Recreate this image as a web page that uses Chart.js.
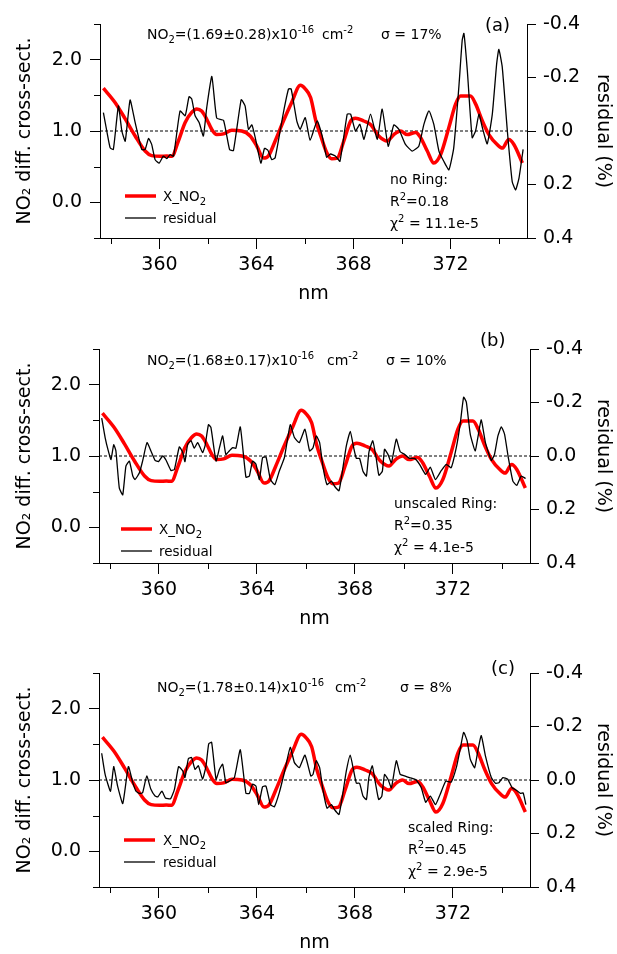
<!DOCTYPE html>
<html>
<head>
<meta charset="utf-8">
<script src="https://cdn.jsdelivr.net/npm/chart.js@4.4.1/dist/chart.umd.min.js"></script>
<style>
  html, body { margin: 0; padding: 0; background: #fff; }
  body { width: 617px; height: 954px; position: relative; overflow: hidden; }
  .panel { position: absolute; left: 0; width: 617px; height: 305px; }
</style>
</head>
<body>
<div class="panel" style="top:0px"><canvas id="panelA" width="617" height="305"></canvas></div>
<div class="panel" style="top:325px"><canvas id="panelB" width="617" height="305"></canvas></div>
<div class="panel" style="top:649px"><canvas id="panelC" width="617" height="305"></canvas></div>
<script>
// axis ranges and ticks
const X_MIN = 357.55, X_MAX = 375.15;
const xTicks = [360, 364, 368, 372];
const xMinor = [358, 362, 366, 370, 374];
const leftTicks = [0, 1, 2];
const leftMinor = [-0.5, 0.5, 1.5, 2.5];
const rightTicks = [-0.4, -0.2, 0, 0.2, 0.4];

// X_NO2 cross-section (same in every panel)
const redNm = [357.69, 358.17, 358.59, 359.00, 359.41, 359.68, 360.03, 360.30, 360.51, 360.78,
  361.06, 361.33, 361.54, 361.74, 361.95, 362.16, 362.36, 362.64, 362.98, 363.39,
  363.74, 364.01, 364.29, 364.49, 364.77, 365.11, 365.45, 365.81, 366.01, 366.23,
  366.45, 366.68, 366.88, 367.10, 367.33, 367.60, 367.88, 368.08, 368.42, 368.70, 369.04,
  369.39, 369.66, 369.94, 370.21, 370.56, 370.76, 371.04, 371.31, 371.59, 371.93,
  372.21, 372.41, 372.82, 373.03, 373.31, 373.58, 373.92, 374.13, 374.40, 374.61, 374.96];
const redVal = [1.60, 1.40, 1.17, 0.93, 0.72, 0.655, 0.645, 0.65, 0.645, 0.86,
  1.12, 1.26, 1.31, 1.28, 1.165, 1.02, 0.95, 0.96, 1.01, 1.00,
  0.93, 0.79, 0.62, 0.65, 0.86, 1.14, 1.40, 1.64, 1.59, 1.47,
  1.14, 0.90, 0.71, 0.61, 0.62, 0.86, 1.14, 1.18, 1.14, 1.09, 0.93,
  0.86, 0.95, 1.00, 0.95, 0.98, 0.91, 0.72, 0.55, 0.67, 1.05,
  1.38, 1.49, 1.49, 1.38, 1.14, 0.95, 0.81, 0.76, 0.88, 0.81, 0.55];

// residual (%) panel (a): no Ring
const resANm = [357.69, 357.83, 357.97, 358.10, 358.31, 358.45, 358.59, 358.79, 359.00, 359.27,
  359.41, 359.55, 359.68, 359.82, 359.99, 360.16, 360.30, 360.44, 360.58, 360.85,
  361.06, 361.22, 361.33, 361.47, 361.64, 361.81, 361.95, 362.16, 362.36, 362.64,
  362.89, 363.05, 363.37, 363.53, 363.67, 363.81, 363.95, 364.18, 364.33, 364.47,
  364.63, 364.77, 365.11, 365.32, 365.43, 365.66, 365.80, 366.01, 366.21, 366.50,
  366.71, 366.89, 367.05, 367.26, 367.44, 367.74, 367.88, 368.08, 368.26, 368.43,
  368.70, 368.98, 369.18, 369.43, 369.66, 369.87, 370.14, 370.42, 370.69, 370.90,
  371.11, 371.31, 371.52, 371.72, 371.93, 372.13, 372.34, 372.48, 372.55, 372.69,
  372.89, 373.03, 373.17, 373.31, 373.51, 373.72, 373.90, 373.99, 374.13, 374.34,
  374.54, 374.68, 374.82, 374.99];
const resAVal = [-0.069, 0.0, 0.063, 0.069, -0.094, 0.0, 0.038, -0.116, -0.031, 0.069,
  0.069, 0.028, 0.05, 0.107, 0.12, 0.094, 0.103, 0.088, 0.094, -0.075,
  -0.057, -0.128, -0.12, -0.057, -0.031, 0.019, -0.088, -0.204, -0.048, -0.040,
  0.069, 0.073, -0.117, -0.094, -0.006, -0.023, 0.025, 0.12, 0.065, 0.072,
  0.107, 0.10, -0.069, -0.157, -0.157, -0.038, -0.006, -0.05, 0.035, -0.038,
  0.019, 0.098, 0.086, 0.094, 0.113, -0.063, -0.063, 0.0, -0.025, 0.031,
  -0.063, 0.031, -0.082, 0.057, -0.023, -0.006, 0.05, 0.075, 0.057, -0.025,
  -0.075, -0.025, 0.075, 0.113, 0.145, 0.063, -0.163, -0.34, -0.365, -0.226,
  0.025, 0.0, -0.063, -0.013, 0.048, -0.063, -0.252, -0.305, -0.239, 0.0,
  0.189, 0.22, 0.176, 0.069];

// residual (%) panel (b): unscaled Ring
const resBNm = [357.66, 357.80, 357.93, 358.04, 358.15, 358.24, 358.38, 358.52, 358.65, 358.79,
  358.93, 359.02, 359.20, 359.33, 359.51, 359.67, 359.84, 359.98, 360.15, 360.29,
  360.49, 360.63, 360.83, 360.97, 361.06, 361.17, 361.31, 361.44, 361.58, 361.78,
  361.88, 362.02, 362.12, 362.33, 362.47, 362.60, 362.73, 362.87, 363.01, 363.14,
  363.32, 363.55, 363.69, 363.82, 363.96, 364.10, 364.23, 364.37, 364.55, 364.73,
  364.91, 365.12, 365.36, 365.53, 365.73, 365.96, 366.15, 366.29, 366.42, 366.56,
  366.69, 366.86, 367.04, 367.17, 367.35, 367.51, 367.65, 367.81, 367.95, 368.06,
  368.19, 368.33, 368.47, 368.57, 368.73, 368.87, 368.98, 369.12, 369.21, 369.35,
  369.49, 369.69, 369.85, 370.03, 370.23, 370.44, 370.64, 370.89, 371.08, 371.29,
  371.53, 371.73, 371.93, 372.14, 372.30, 372.44, 372.55, 372.71, 372.91, 373.02,
  373.16, 373.33, 373.57, 373.70, 373.84, 373.98, 374.11, 374.27, 374.45, 374.61,
  374.79, 374.97];
const resBVal = [-0.142, -0.069, -0.019, 0.013, -0.042, -0.019, 0.12, 0.145, 0.038, 0.019,
  0.075, 0.088, 0.063, 0.019, -0.05, -0.019, 0.016, 0.021, 0.0, 0.016,
  0.054, 0.05, -0.034, -0.013, 0.021, -0.044, -0.057, -0.029, -0.05, -0.013,
  -0.038, -0.117, -0.107, 0.019, -0.031, -0.075, -0.006, -0.019, -0.031, -0.029,
  -0.109, 0.079, 0.075, 0.019, 0.031, 0.088, 0.006, 0.004, 0.088, 0.107,
  0.057, 0.006, -0.117, -0.069, -0.05, -0.1, -0.019, -0.031, -0.075, -0.05,
  0.038, 0.107, 0.094, 0.113, 0.13, 0.044, -0.038, -0.092, -0.031, 0.009,
  0.009, 0.057, 0.075, -0.013, -0.057, 0.009, 0.072, 0.057, -0.025, -0.006,
  0.025, -0.063, -0.016, -0.006, 0.009, 0.009, 0.031, 0.069, 0.042, 0.088,
  0.054, 0.031, 0.044, -0.031, -0.12, -0.22, -0.201, -0.082, -0.019, -0.069,
  -0.135, -0.05, 0.016, -0.006, -0.075, -0.109, -0.082, 0.009, 0.094, 0.11,
  0.075, 0.084];

// residual (%) panel (c): scaled Ring
const resCNm = [357.66, 357.80, 358.02, 358.15, 358.31, 358.52, 358.75, 358.93, 359.06, 359.20,
  359.33, 359.50, 359.67, 359.84, 359.95, 360.12, 360.26, 360.47, 360.63, 360.80,
  360.97, 361.06, 361.20, 361.33, 361.47, 361.61, 361.78, 361.92, 362.03, 362.15,
  362.33, 362.47, 362.60, 362.73, 362.87, 363.08, 363.32, 363.55, 363.69, 363.82,
  363.96, 364.07, 364.23, 364.37, 364.55, 364.71, 364.91, 365.12, 365.36, 365.53,
  365.73, 365.96, 366.20, 366.29, 366.42, 366.56, 366.69, 366.86, 367.04, 367.17,
  367.35, 367.51, 367.65, 367.81, 367.95, 368.06, 368.19, 368.33, 368.47, 368.57,
  368.71, 368.84, 368.97, 369.10, 369.21, 369.35, 369.49, 369.69, 369.85, 370.03,
  370.23, 370.50, 370.71, 370.89, 371.08, 371.29, 371.48, 371.71, 371.93, 372.14,
  372.30, 372.44, 372.58, 372.71, 372.89, 373.02, 373.16, 373.33, 373.57, 373.74,
  373.88, 374.04, 374.24, 374.42, 374.59, 374.76, 374.87, 374.98];
const resCVal = [-0.1, -0.021, 0.042, -0.05, 0.023, 0.088, -0.05, 0.01, 0.042, 0.05,
  0.048, -0.015, 0.035, 0.06, 0.063, 0.042, 0.067, 0.07, 0.035, -0.05,
  -0.034, -0.009, -0.08, -0.084, -0.04, -0.053, -0.003, -0.053, -0.135, -0.141,
  -0.003, -0.04, -0.059, 0.01, 0.004, -0.009, -0.113, 0.05, 0.05, 0.016,
  0.023, 0.092, 0.025, 0.023, 0.092, 0.1, 0.048, -0.028, -0.122, -0.065,
  -0.046, -0.093, -0.015, -0.021, -0.072, -0.046, 0.035, 0.105, 0.092, 0.111,
  0.129, 0.048, -0.034, -0.093, -0.034, 0.012, 0.012, 0.06, 0.073, -0.009,
  -0.053, 0.012, 0.073, 0.06, -0.021, -0.003, 0.029, -0.072, -0.021, -0.015,
  -0.009, 0.0, 0.029, 0.083, 0.06, 0.092, 0.054, 0.004, 0.008, -0.046,
  -0.116, -0.178, -0.147, -0.078, -0.046, -0.109, -0.166, -0.09, -0.009, 0.012,
  0.01, -0.009, -0.003, 0.029, 0.038, 0.05, 0.048, 0.092];

const FONT = '"DejaVu Sans", Verdana, sans-serif';

function pts(xs, ys) {
  return xs.map((x, i) => ({ x: x, y: ys[i] }));
}

// text with sub/superscripts, parts = [[text, ''|'sub'|'sup'], ...]
function drawRich(ctx, x, y, parts, size) {
  parts.forEach(([t, m]) => {
    const s = m ? Math.round(size * 0.72) : size;
    const dy = m === "sup" ? -size * 0.45 : m === "sub" ? size * 0.3 : 0;
    ctx.font = s + "px " + FONT;
    ctx.fillText(t, x, y + dy);
    x += ctx.measureText(t).width;
  });
  return x;
}

const panels = [
  {
    id: "panelA", nm: resANm, res: resAVal, leftW: 100, rightW: 90,
    tag: "(a)", tagX: 485, tagY: 31,
    fit: "=(1.69±0.28)x10", sigma: "σ = 17%", titleX: 147, titleY: 39, cmX: 322, sigmaX: 381,
    legX: 125, legY: 196, legTextX: 163,
    ring: "no Ring:", r2: "=0.18", chi2: " = 11.1e-5", statX: 390, statY: 184,
  },
  {
    id: "panelB", nm: resBNm, res: resBVal, leftW: 99, rightW: 87,
    tag: "(b)", tagX: 480, tagY: 21,
    fit: "=(1.68±0.17)x10", sigma: "σ = 10%", titleX: 147, titleY: 40, cmX: 327, sigmaX: 386,
    legX: 121, legY: 204, legTextX: 159,
    ring: "unscaled Ring:", r2: "=0.35", chi2: " = 4.1e-5", statX: 394, statY: 183,
  },
  {
    id: "panelC", nm: resCNm, res: resCVal, leftW: 99, rightW: 87,
    tag: "(c)", tagX: 491, tagY: 25,
    fit: "=(1.78±0.14)x10", sigma: "σ = 8%", titleX: 157, titleY: 43, cmX: 335, sigmaX: 400,
    legX: 124, legY: 191, legTextX: 163,
    ring: "scaled Ring:", r2: "=0.45", chi2: " = 2.9e-5", statX: 408, statY: 183,
  },
];

function makePanel(p) {
  // minor ticks, legend and annotations
  const panelText = {
    id: "panelText",
    afterDraw(chart) {
      const { ctx, chartArea, scales } = chart;
      ctx.save();
      ctx.strokeStyle = "#000";
      ctx.fillStyle = "#000";
      ctx.lineWidth = 1;
      xMinor.forEach((v) => {
        const px = Math.round(scales.x.getPixelForValue(v)) + 0.5;
        ctx.beginPath();
        ctx.moveTo(px, chartArea.bottom);
        ctx.lineTo(px, chartArea.bottom + 6);
        ctx.stroke();
      });
      leftMinor.forEach((v) => {
        const py = Math.round(scales.yL.getPixelForValue(v)) + 0.5;
        ctx.beginPath();
        ctx.moveTo(chartArea.left - 6, py);
        ctx.lineTo(chartArea.left, py);
        ctx.stroke();
      });

      ctx.textBaseline = "alphabetic";
      ctx.textAlign = "left";
      drawRich(ctx, p.titleX, p.titleY, [["NO", ""], ["2", "sub"], [p.fit, ""], ["-16", "sup"]], 14);
      drawRich(ctx, p.cmX, p.titleY, [["cm", ""], ["-2", "sup"]], 14);
      drawRich(ctx, p.sigmaX, p.titleY, [[p.sigma, ""]], 14);
      drawRich(ctx, p.tagX, p.tagY, [[p.tag, ""]], 18);

      drawRich(ctx, p.statX, p.statY, [[p.ring, ""]], 14);
      drawRich(ctx, p.statX, p.statY + 22, [["R", ""], ["2", "sup"], [p.r2, ""]], 14);
      drawRich(ctx, p.statX, p.statY + 44, [["χ", ""], ["2", "sup"], [p.chi2, ""]], 14);

      // legend
      ctx.lineCap = "butt";
      ctx.strokeStyle = "#ff0000";
      ctx.lineWidth = 3.5;
      ctx.beginPath();
      ctx.moveTo(p.legX, p.legY);
      ctx.lineTo(p.legX + 31, p.legY);
      ctx.stroke();
      ctx.strokeStyle = "#000";
      ctx.lineWidth = 1.3;
      ctx.beginPath();
      ctx.moveTo(p.legX, p.legY + 22);
      ctx.lineTo(p.legX + 31, p.legY + 22);
      ctx.stroke();
      drawRich(ctx, p.legTextX, p.legY + 5, [["X_NO", ""], ["2", "sub"]], 13.5);
      drawRich(ctx, p.legTextX, p.legY + 27, [["residual", ""]], 13.5);
      ctx.restore();
    },
  };

  const tickFont = { family: FONT, size: 19 };

  new Chart(document.getElementById(p.id), {
    type: "line",
    data: {
      datasets: [
        {
          label: "residual",
          data: pts(p.nm, p.res),
          yAxisID: "yR",
          borderColor: "#000",
          borderWidth: 1.3,
          pointRadius: 0,
          tension: 0.15,
        },
        {
          label: "X_NO2",
          data: pts(redNm, redVal),
          yAxisID: "yL",
          borderColor: "#ff0000",
          borderWidth: 3.5,
          pointRadius: 0,
          cubicInterpolationMode: "monotone",
        },
        {
          label: "zero",
          data: [{ x: X_MIN, y: 1 }, { x: X_MAX, y: 1 }],
          yAxisID: "yL",
          borderColor: "#000",
          borderWidth: 1,
          borderDash: [3, 2],
          pointRadius: 0,
        },
      ],
    },
    options: {
      responsive: false,
      animation: false,
      events: [],
      layout: { padding: { top: 24, left: 0, right: 0, bottom: 0 } },
      plugins: { legend: { display: false }, tooltip: { enabled: false } },
      scales: {
        x: {
          type: "linear",
          min: X_MIN,
          max: X_MAX,
          afterBuildTicks: (s) => { s.ticks = xTicks.map((v) => ({ value: v })); },
          afterFit: (s) => { s.height = 67; },
          grid: { drawOnChartArea: false, tickLength: 11, color: "#000" },
          border: { color: "#000", width: 1 },
          ticks: { color: "#000", font: tickFont, padding: 5, maxRotation: 0, autoSkip: false,
            callback: (v) => String(v) },
          title: { display: true, text: "nm", color: "#000", font: tickFont, padding: { top: 0, bottom: 0 } },
        },
        yL: {
          position: "left",
          min: -0.5,
          max: 2.5,
          afterBuildTicks: (s) => { s.ticks = leftTicks.map((v) => ({ value: v })); },
          afterFit: (s) => { s.width = p.leftW; },
          grid: { drawOnChartArea: false, tickLength: 10, color: "#000" },
          border: { color: "#000", width: 1 },
          ticks: { color: "#000", font: tickFont, padding: 8, autoSkip: false,
            callback: (v) => v.toFixed(1) },
          title: { display: true, text: "NO₂ diff. cross-sect.", color: "#000", font: tickFont, padding: { top: 14, bottom: 0 } },
        },
        yR: {
          position: "right",
          min: -0.4,
          max: 0.4,
          reverse: true,
          afterBuildTicks: (s) => { s.ticks = rightTicks.map((v) => ({ value: v })); },
          afterFit: (s) => { s.width = p.rightW; },
          grid: { drawOnChartArea: false, tickLength: 9, color: "#000" },
          border: { color: "#000", width: 1 },
          ticks: { color: "#000", font: tickFont, padding: 7, autoSkip: false,
            callback: (v) => v.toFixed(1) },
          title: { display: true, text: "residual (%)", color: "#000", font: tickFont, padding: { top: 3, bottom: 0 } },
        },
      },
    },
    plugins: [panelText],
  });
}

panels.forEach(makePanel);
</script>
</body>
</html>
